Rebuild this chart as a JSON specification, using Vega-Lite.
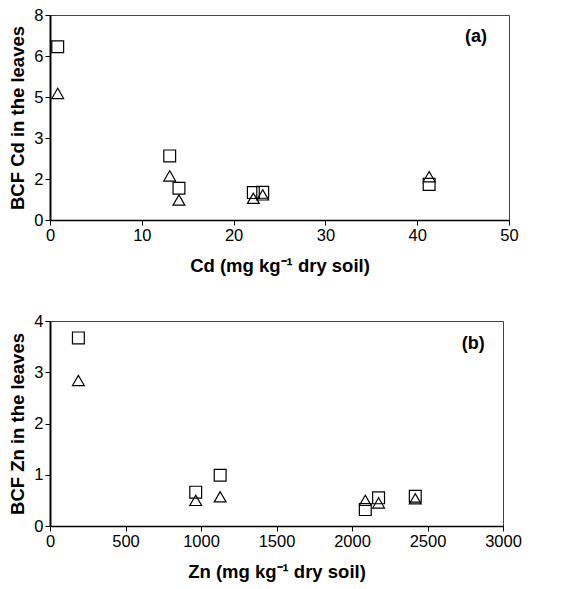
{
  "$schema": "https://vega.github.io/schema/vega-lite/v6.json",
  "background": "white",
  "padding": {"left": 8, "top": 6, "right": 5, "bottom": 5},
  "spacing": 36,
  "config": {
    "font": "Liberation Sans",
    "view": {"stroke": "#444444", "strokeWidth": 1},
    "axis": {
      "grid": false,
      "labelFlush": false,
      "labelFont": "Liberation Sans",
      "labelFontSize": 16.5,
      "labelColor": "black",
      "titleFont": "Liberation Sans",
      "titleFontSize": 18.5,
      "titleFontWeight": "bold",
      "titleColor": "black",
      "domainColor": "black",
      "tickColor": "black",
      "tickSize": 5,
      "labelPadding": 2
    },
    "axisY": {"domainWidth": 2, "titlePadding": 6},
    "axisX": {"domainWidth": 1.5, "titlePadding": 13}
  },
  "datasets": {
    "cd": [
      {"soil": 0.84, "bcf": 6.76, "series": "A"},
      {"soil": 0.84, "bcf": 4.94, "series": "B"},
      {"soil": 13.04, "bcf": 2.5, "series": "A"},
      {"soil": 13.04, "bcf": 1.72, "series": "B"},
      {"soil": 14.05, "bcf": 1.24, "series": "A"},
      {"soil": 14.05, "bcf": 0.78, "series": "B"},
      {"soil": 22.15, "bcf": 1.07, "series": "A"},
      {"soil": 22.15, "bcf": 0.85, "series": "B"},
      {"soil": 23.17, "bcf": 1.08, "series": "A"},
      {"soil": 23.17, "bcf": 0.98, "series": "B"},
      {"soil": 41.3, "bcf": 1.39, "series": "A"},
      {"soil": 41.3, "bcf": 1.69, "series": "B"}
    ],
    "zn": [
      {"soil": 188, "bcf": 3.67, "series": "A"},
      {"soil": 188, "bcf": 2.84, "series": "B"},
      {"soil": 965, "bcf": 0.66, "series": "A"},
      {"soil": 965, "bcf": 0.5, "series": "B"},
      {"soil": 1127, "bcf": 0.99, "series": "A"},
      {"soil": 1127, "bcf": 0.57, "series": "B"},
      {"soil": 2088, "bcf": 0.32, "series": "A"},
      {"soil": 2088, "bcf": 0.5, "series": "B"},
      {"soil": 2176, "bcf": 0.55, "series": "A"},
      {"soil": 2176, "bcf": 0.45, "series": "B"},
      {"soil": 2419, "bcf": 0.58, "series": "A"},
      {"soil": 2419, "bcf": 0.53, "series": "B"}
    ],
    "labels": [
      {"panel": "a", "text": "(a)", "x": 46.4, "y": 7.14},
      {"panel": "b", "text": "(b)", "x": 2803, "y": 3.56}
    ]
  },
  "vconcat": [
    {
      "width": 459,
      "height": 205,
      "layer": [
        {
          "data": {"name": "cd"},
          "mark": {"type": "point", "filled": false, "color": "black", "strokeWidth": 1.2, "size": 140, "opacity": 1},
          "encoding": {
            "x": {"field": "soil", "type": "quantitative", "scale": {"domain": [0, 50], "nice": false}, "axis": {"values": [0, 10, 20, 30, 40, 50], "format": "d", "title": "Cd (mg kg⁻¹ dry soil)"}},
            "y": {"field": "bcf", "type": "quantitative", "scale": {"domain": [0, 8], "nice": false}, "axis": {"values": [0, 1.6, 3.2, 4.8, 6.4, 8], "format": ".0f", "title": "BCF Cd in the leaves"}},
            "shape": {"field": "series", "type": "nominal", "scale": {"domain": ["A", "B"], "range": ["square", "triangle-up"]}, "legend": null}
          }
        },
        {
          "data": {"name": "labels"},
          "transform": [{"filter": "datum.panel === 'a'"}],
          "mark": {"type": "text", "fontWeight": "bold", "fontSize": 18, "font": "Liberation Sans", "color": "black"},
          "encoding": {"x": {"field": "x", "type": "quantitative"}, "y": {"field": "y", "type": "quantitative"}, "text": {"field": "text"}}
        }
      ]
    },
    {
      "width": 453,
      "height": 205,
      "layer": [
        {
          "data": {"name": "zn"},
          "mark": {"type": "point", "filled": false, "color": "black", "strokeWidth": 1.2, "size": 140, "opacity": 1},
          "encoding": {
            "x": {"field": "soil", "type": "quantitative", "scale": {"domain": [0, 3000], "nice": false}, "axis": {"values": [0, 500, 1000, 1500, 2000, 2500, 3000], "format": "d", "title": "Zn (mg kg⁻¹ dry soil)"}},
            "y": {"field": "bcf", "type": "quantitative", "scale": {"domain": [0, 4], "nice": false}, "axis": {"values": [0, 1, 2, 3, 4], "format": "d", "title": "BCF Zn in the leaves"}},
            "shape": {"field": "series", "type": "nominal", "scale": {"domain": ["A", "B"], "range": ["square", "triangle-up"]}, "legend": null}
          }
        },
        {
          "data": {"name": "labels"},
          "transform": [{"filter": "datum.panel === 'b'"}],
          "mark": {"type": "text", "fontWeight": "bold", "fontSize": 18, "font": "Liberation Sans", "color": "black"},
          "encoding": {"x": {"field": "x", "type": "quantitative"}, "y": {"field": "y", "type": "quantitative"}, "text": {"field": "text"}}
        }
      ]
    }
  ]
}
